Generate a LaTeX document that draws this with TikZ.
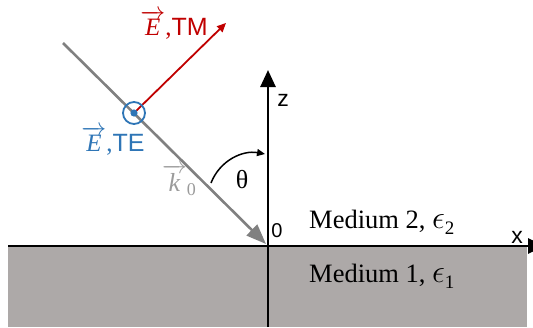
\documentclass[tikz,border=0pt]{standalone}
\usepackage{fontspec}
\setmainfont{Liberation Serif}
\setsansfont{Liberation Sans}
\usetikzlibrary{arrows.meta}
\definecolor{medgray}{RGB}{173,169,168}
\definecolor{raygray}{RGB}{128,128,128}
\definecolor{kgray}{RGB}{155,155,155}
\definecolor{tmred}{RGB}{192,0,0}
\definecolor{teblue}{RGB}{46,117,182}
\newcommand\myfs[1]{\fontsize{#1}{#1}\selectfont}
\newcommand\myvec[1]{\ensuremath{\overrightarrow{\mbox{\itshape #1}}}}
\newcommand\myeps[1]{\scalebox{1.3}{$\epsilon$}\raisebox{-6pt}{\myfs{19}#1}}
\begin{document}
\begin{tikzpicture}[x=1pt,y=-1pt,
  axis/.style={line width=2.6pt,black},
  lbl/.style={inner sep=0pt,anchor=center},
  medtxt/.style={lbl,font=\myfs{26.5}},
  fieldlbl/.style={lbl,font=\myfs{25}},
  sanslbl/.style={lbl,font=\sffamily\myfs{23}}]
\useasboundingbox (0,0) rectangle (533,327);
% medium 1
\fill[medgray] (8,246) rectangle (527,327);
% coordinates
\coordinate (O) at (268,246);
\coordinate (xL) at (8,246);
\coordinate (xR) at (545,246);
\coordinate (zB) at (268,327);
\coordinate (zT) at (268,70);
\coordinate (kS) at (63,43);
\coordinate (kE) at (266,244);
\coordinate (C) at (134,113);
\coordinate (tmE) at (226,23);
\coordinate (aS) at (211,183);
\coordinate (aE) at (265,154);
% axes
\draw[axis,-{Triangle[length=17pt,width=15pt]}] (xL) -- (xR);
\draw[axis,-{Triangle[length=17pt,width=15pt]}] (zB) -- (zT);
% incident wave vector
\draw[raygray,line width=2.6pt,-{Triangle[length=20pt,width=15pt]}] (kS) -- (kE);
% TM field
\draw[tmred,line width=1.8pt,-{Triangle[length=9pt,width=8pt]}] (C) -- (tmE);
% TE field (out of plane)
\draw[teblue,line width=1.8pt] (C) circle[radius=11];
\fill[teblue] (C) circle[radius=3.6];
% angle
\draw[black,line width=1.5pt,-{Triangle[length=8pt,width=7pt]}] (aS) .. controls (220,160) and (243,150) .. (aE);
% labels
\node[fieldlbl,text=tmred] (tm) at (174,25) {\myvec{E},\textsf{TM}};
\node[fieldlbl,text=teblue] (te) at (113,141) {\myvec{E},\textsf{TE}};
\node[lbl,text=kgray,font=\myfs{26}] (k0) at (179,180) {\myvec{k}\raisebox{-4pt}{\myfs{18}0}};
\node[lbl,font=\myfs{26}] (th) at (242,180) {θ};
\node[sanslbl] (zl) at (283,100) {z};
\node[sanslbl] (xl) at (517,237) {x};
\node[lbl,font=\sffamily\myfs{20}] (ol) at (277,231) {0};
\node[medtxt,anchor=base west] (m2) at (309,228) {Medium 2, \myeps{2}};
\node[medtxt,anchor=base west] (m1) at (309,282) {Medium 1, \myeps{1}};
\end{tikzpicture}
\end{document}
